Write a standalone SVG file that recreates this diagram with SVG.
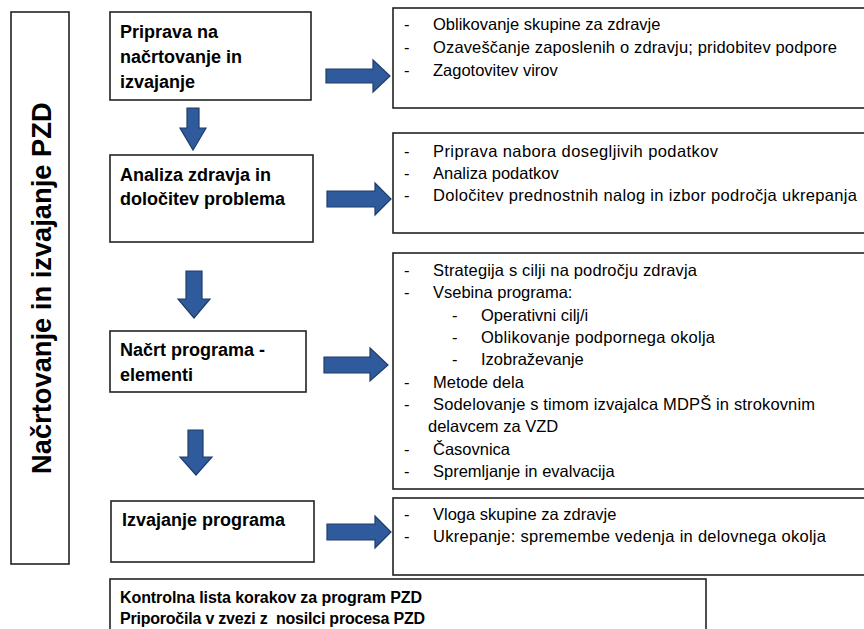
<svg xmlns="http://www.w3.org/2000/svg" width="864" height="629" viewBox="0 0 864 629">
<style>
.box{fill:#fff;stroke:#222;stroke-width:1.6}
.h{font-family:"Liberation Sans",Arial,sans-serif;font-weight:bold;font-size:18px;fill:#000}
.t{font-family:"Liberation Sans",Arial,sans-serif;font-size:16.5px;fill:#000}
.b{font-family:"Liberation Sans",Arial,sans-serif;font-weight:bold;font-size:16px;fill:#000;white-space:pre}
.v{font-family:"Liberation Sans",Arial,sans-serif;font-weight:bold;font-size:27.3px;fill:#000}
.arr{fill:#2f5b9c;stroke:#1f3d6b;stroke-width:1.2;stroke-linejoin:miter}
</style>
<rect width="864" height="629" fill="#fff"/>
<g id="side">
<rect class="box" x="11" y="12" width="58" height="552"/>
<text class="v" transform="translate(51,474) rotate(-90)">Načrtovanje in izvajanje PZD</text>
</g>
<g id="step1">
<rect class="box" x="110" y="12" width="201" height="88"/>
<text class="h" x="120" y="38">Priprava na</text>
<text class="h" x="120" y="63">načrtovanje in</text>
<text class="h" x="120" y="88">izvajanje</text>
</g>
<g id="step2">
<rect class="box" x="110" y="155" width="203" height="87"/>
<text class="h" x="120" y="181">Analiza zdravja in</text>
<text class="h" x="120" y="205">določitev problema</text>
</g>
<g id="step3">
<rect class="box" x="110" y="331" width="196" height="61"/>
<text class="h" x="120" y="356">Načrt programa -</text>
<text class="h" x="120" y="381">elementi</text>
</g>
<g id="step4">
<rect class="box" x="111" y="501" width="203" height="61"/>
<text class="h" x="122" y="526">Izvajanje programa</text>
</g>
<g id="detail1">
<rect class="box" x="393" y="8" width="475" height="100"/>
<text class="t" x="404" y="30">-</text><text class="t" x="433" y="30">Oblikovanje skupine za zdravje</text>
<text class="t" x="404" y="53">-</text><text class="t" x="433" y="53" textLength="404">Ozaveščanje zaposlenih o zdravju; pridobitev podpore</text>
<text class="t" x="404" y="76">-</text><text class="t" x="433" y="76">Zagotovitev virov</text>
</g>
<g id="detail2">
<rect class="box" x="393" y="133" width="475" height="100"/>
<text class="t" x="404" y="157">-</text><text class="t" x="433" y="157" textLength="285">Priprava nabora dosegljivih podatkov</text>
<text class="t" x="404" y="179">-</text><text class="t" x="433" y="179">Analiza podatkov</text>
<text class="t" x="404" y="201">-</text><text class="t" x="433" y="201" textLength="424">Določitev prednostnih nalog in izbor področja ukrepanja</text>
</g>
<g id="detail3">
<rect class="box" x="393" y="253" width="475" height="236"/>
<text class="t" x="404" y="276">-</text><text class="t" x="433" y="276" textLength="264">Strategija s cilji na področju zdravja</text>
<text class="t" x="404" y="298">-</text><text class="t" x="433" y="298">Vsebina programa:</text>
<text class="t" x="452" y="321">-</text><text class="t" x="481" y="321">Operativni cilj/i</text>
<text class="t" x="452" y="343">-</text><text class="t" x="481" y="343" textLength="234">Oblikovanje podpornega okolja</text>
<text class="t" x="452" y="365">-</text><text class="t" x="481" y="365">Izobraževanje</text>
<text class="t" x="404" y="388">-</text><text class="t" x="433" y="388">Metode dela</text>
<text class="t" x="404" y="410">-</text><text class="t" x="433" y="410" textLength="382">Sodelovanje s timom izvajalca MDPŠ in strokovnim</text>
<text class="t" x="428" y="432">delavcem za VZD</text>
<text class="t" x="404" y="455">-</text><text class="t" x="433" y="455">Časovnica</text>
<text class="t" x="404" y="477">-</text><text class="t" x="433" y="477">Spremljanje in evalvacija</text>
</g>
<g id="detail4">
<rect class="box" x="393" y="498" width="475" height="77"/>
<text class="t" x="404" y="520">-</text><text class="t" x="433" y="520">Vloga skupine za zdravje</text>
<text class="t" x="404" y="542">-</text><text class="t" x="433" y="542" textLength="393">Ukrepanje: spremembe vedenja in delovnega okolja</text>
</g>
<g id="checklist">
<rect class="box" x="110" y="579" width="596" height="60"/>
<text class="b" x="120" y="603" textLength="302">Kontrolna lista korakov za program PZD</text>
<text class="b" x="120" y="624" textLength="305" xml:space="preserve">Priporočila v zvezi z  nosilci procesa PZD</text>
</g>
<g id="connectors">
<polygon class="arr" points="326,69 373,69 373,60 390,76 373,92 373,83 326,83"/>
<polygon class="arr" points="327,191 375,191 375,183 391,199 375,215 375,207 327,207"/>
<polygon class="arr" points="324,357 370,357 370,348 388,365 370,381 370,373 324,373"/>
<polygon class="arr" points="327,524 375,524 375,516 391,532 375,548 375,540 327,540"/>
<polygon class="arr" points="187,108 199,108 199,128 206,128 193,150 180,128 187,128"/>
<polygon class="arr" points="186,271 202,271 202,299 210,299 194,318 178,299 186,299"/>
<polygon class="arr" points="188,430 203,430 203,457 212,457 196,475 180,457 188,457"/>
</g>
</svg>
